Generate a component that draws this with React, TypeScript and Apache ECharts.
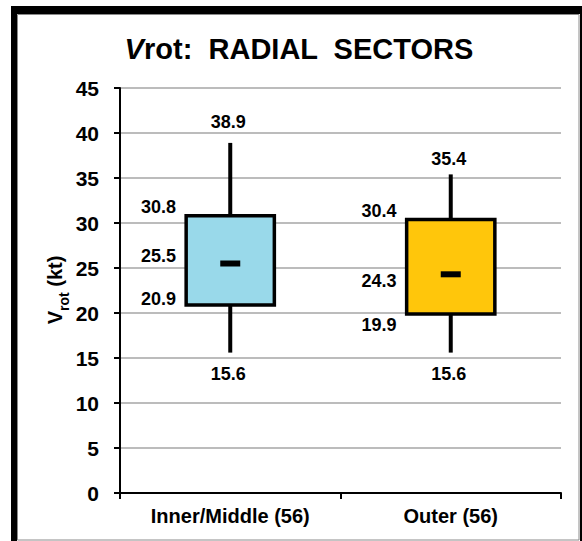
import React, { useEffect, useRef } from "react";
import * as echarts from "echarts";

const categories = ["Inner/Middle (56)", "Outer (56)"];
const minValues = [15.6, 15.6];
const q1Values = [20.9, 19.9];
const medianValues = [25.5, 24.3];
const q3Values = [30.8, 30.4];
const maxValues = [38.9, 35.4];
const boxColors = ["#99D9EA", "#FFC60B"];
// label nudges (pixels) per category, styling only
const maxLabelNudge = [-21, -15];
const medLabelNudge = [-8, 7];
const q1LabelNudge = [-6, 11];

const FONT = "'Liberation Sans', Arial, sans-serif";

export default function App() {
  const ref = useRef<HTMLDivElement>(null);
  useEffect(() => {
    if (!ref.current) return;
    const chart = echarts.init(ref.current, undefined, { renderer: "svg" });
    const data = categories.map((_, i) => [
      i,
      minValues[i],
      q1Values[i],
      medianValues[i],
      q3Values[i],
      maxValues[i],
    ]);
    const labelFont = `bold 18px ${FONT}`;
    chart.setOption({
      animation: false,
      backgroundColor: "#ffffff",
      textStyle: { fontFamily: FONT },
      title: {
        text: "{i|V}rot:  RADIAL  SECTORS",
        left: 294,
        textAlign: "center",
        top: 29,
        textStyle: {
          fontSize: 29,
          fontWeight: "bold",
          color: "#000",
          fontFamily: FONT,
          rich: {
            i: { fontSize: 29, fontWeight: "bold", fontStyle: "italic", color: "#000", fontFamily: FONT },
          },
        },
      },
      grid: { left: 120, right: 21, top: 88, bottom: 48 },
      xAxis: {
        type: "category",
        data: categories,
        axisLine: { lineStyle: { color: "#000", width: 2 } },
        axisTick: { show: true, alignWithLabel: false, length: 6, lineStyle: { color: "#000", width: 2 } },
        axisLabel: { color: "#000", fontSize: 20, fontWeight: "bold", margin: 13, fontFamily: FONT },
        splitLine: { show: false },
      },
      yAxis: {
        type: "value",
        min: 0,
        max: 45,
        interval: 5,
        axisLine: { show: true, lineStyle: { color: "#000", width: 2 } },
        axisTick: { show: true, length: 6, lineStyle: { color: "#000", width: 2 } },
        axisLabel: { color: "#000", fontSize: 21, fontWeight: "bold", margin: 21, fontFamily: FONT },
        splitLine: { show: true, lineStyle: { color: "#a6a6a6", width: 1.5 } },
      },
      graphic: [
        { type: "rect", shape: { x: 11, y: 6, width: 571, height: 8 }, style: { fill: "#000" }, z: 100 },
        { type: "rect", shape: { x: 11, y: 6, width: 6, height: 535 }, style: { fill: "#000" }, z: 100 },
        { type: "rect", shape: { x: 580, y: 6, width: 2, height: 535 }, style: { fill: "#000" }, z: 100 },
        {
          type: "rect",
          shape: { x: 17.5, y: 14.5, width: 561.5, height: 525.5 },
          style: { fill: "none", stroke: "#8a8a8a", lineWidth: 1 },
          z: 99,
        },
        {
          type: "text",
          x: 54,
          y: 290,
          rotation: Math.PI / 2,
          style: {
            text: "{a|V}{b|rot}{a| (kt)}",
            align: "center",
            verticalAlign: "middle",
            fill: "#000",
            rich: {
              a: { fontSize: 20, fontWeight: "bold", fontFamily: FONT, fill: "#000", verticalAlign: "bottom", lineHeight: 22 },
              b: { fontSize: 14, fontWeight: "bold", fontFamily: FONT, fill: "#000", verticalAlign: "bottom", lineHeight: 22, padding: [0, 0, -6, 0] },
            },
          },
        },
      ],
      series: [
        {
          type: "custom",
          data,
          encode: { x: 0, y: [1, 2, 3, 4, 5] },
          renderItem: (params: any, api: any) => {
            const i = api.value(0);
            const pMin = api.coord([i, api.value(1)]);
            const pQ1 = api.coord([i, api.value(2)]);
            const pMed = api.coord([i, api.value(3)]);
            const pQ3 = api.coord([i, api.value(4)]);
            const pMax = api.coord([i, api.value(5)]);
            const cx = pMin[0];
            const w = api.size([1, 0])[0] * 0.4;
            const left = cx - w / 2;
            const idx = params.dataIndex;
            const fmt = (v: number) => v.toFixed(1);
            return {
              type: "group",
              children: [
                { type: "line", shape: { x1: cx, y1: pQ3[1], x2: cx, y2: pMax[1] }, style: { stroke: "#000", lineWidth: 4 } },
                { type: "line", shape: { x1: cx, y1: pQ1[1], x2: cx, y2: pMin[1] }, style: { stroke: "#000", lineWidth: 4 } },
                {
                  type: "rect",
                  shape: { x: left, y: pQ3[1], width: w, height: pQ1[1] - pQ3[1] },
                  style: { fill: boxColors[idx], stroke: "#000", lineWidth: 3.5 },
                },
                { type: "rect", shape: { x: cx - 10, y: pMed[1] - 3, width: 20, height: 6 }, style: { fill: "#000" } },
                { type: "text", style: { text: fmt(api.value(5)), x: cx - 2, y: pMax[1] + maxLabelNudge[idx], align: "center", verticalAlign: "middle", font: labelFont, fill: "#000" } },
                { type: "text", style: { text: fmt(api.value(1)), x: cx - 2, y: pMin[1] + 21, align: "center", verticalAlign: "middle", font: labelFont, fill: "#000" } },
                { type: "text", style: { text: fmt(api.value(4)), x: left - 10, y: pQ3[1] - 8.5, align: "right", verticalAlign: "middle", font: labelFont, fill: "#000" } },
                { type: "text", style: { text: fmt(api.value(3)), x: left - 10, y: pMed[1] + medLabelNudge[idx], align: "right", verticalAlign: "middle", font: labelFont, fill: "#000" } },
                { type: "text", style: { text: fmt(api.value(2)), x: left - 10, y: pQ1[1] + q1LabelNudge[idx], align: "right", verticalAlign: "middle", font: labelFont, fill: "#000" } },
              ],
            };
          },
        },
      ],
    });
    return () => chart.dispose();
  }, []);
  return <div ref={ref} style={{ position: "fixed", left: 0, top: 0, width: 582, height: 541 }} />;
}
